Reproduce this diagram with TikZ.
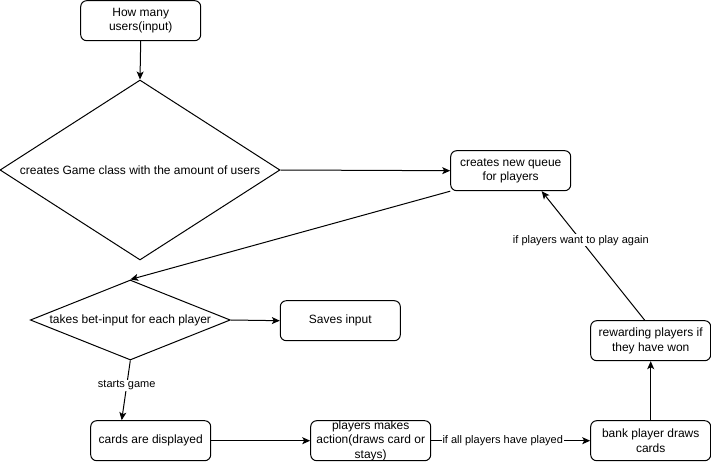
\documentclass[tikz,border=0pt]{standalone}
\usepackage{fontspec}
\setmainfont{Liberation Sans}
\usetikzlibrary{arrows.meta,calc,shapes.geometric,positioning}

\begin{document}
\begin{tikzpicture}[x=1pt,y=-1pt,line width=1pt,
 box/.style={draw, rounded corners=6pt, minimum width=120pt, minimum height=40pt,
  align=center, inner sep=0pt, font=\fontsize{12}{14.4}\selectfont},
 dec/.style={draw, diamond, inner sep=0pt, align=center, font=\fontsize{12}{14.4}\selectfont},
 lbl/.style={fill=white, inner sep=1pt, font=\fontsize{11}{13}\selectfont},
 arr/.style={-{Stealth[length=8pt,width=7pt,inset=2pt]}}]

\useasboundingbox (0,0) rectangle (711,462);

\node[box] (Users) at (140.7,20.7) {How many\\users(input)};
\node[dec, aspect=1.556, minimum width=280pt, minimum height=180pt] (Game)
 at (140,170) {creates Game class with the amount of users};
\node[box] (Queue) at (510.7,170.7) {creates new queue\\for players};

\node[dec, aspect=2.5, minimum width=200pt, minimum height=80pt] (Bet)
 at (130.3,320) {takes bet-input for each player};
\node[box] (Save) at (340.3,320.7) {Saves input};

\node[box] (Cards) at (150.7,440.7) {cards are displayed};
\node[box] (Act) at (370.7,440.7) {players makes\\action(draws card or\\stays)};
\node[box] (Bank) at (650.7,440.7) {bank player draws\\cards};
\node[box] (Reward) at (650.7,340.7) {rewarding players if\\they have won};

\draw[arr] (Users.south) -- (Game.north);
\draw[arr] (Game.east) -- (Queue.west);
\draw[arr] (Queue.south west) -- (Bet.north);
\draw[arr] (Bet.east) -- (Save.west);
\draw[arr] (Bet.south) -- node[lbl, pos=0.42] {starts game}
 ($(Cards.north)+(-29,0)$);
\draw[arr] (Cards.east) -- (Act.west);
\draw[arr] (Act.east) -- node[lbl, pos=0.45] {if all players have played} (Bank.west);
\draw[arr] (Bank.north) -- (Reward.north |- Reward.south);
\draw[arr] ($(Reward.north)+(-6,0)$) -- node[lbl, pos=0.62] {if players want to play again}
 ($(Queue.south)+(31,0)$);
\end{tikzpicture}
\end{document}
